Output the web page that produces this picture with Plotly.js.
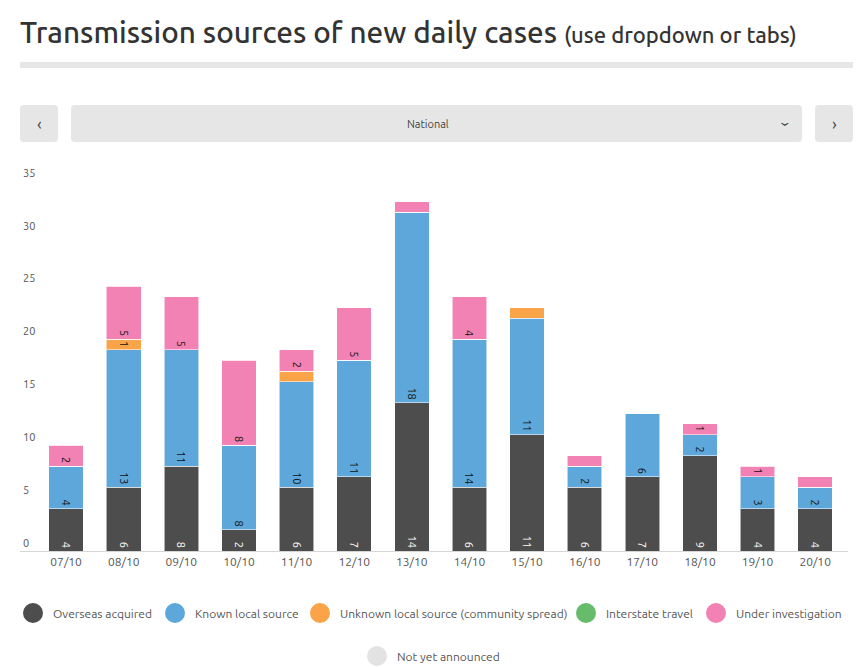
<!DOCTYPE html>
<html>
<head>
<meta charset="utf-8">
<script src="https://cdn.plot.ly/plotly-3.0.1.min.js"></script>
<style>html,body{margin:0;padding:0;background:#fff;}#chart{width:862px;height:667px;}</style>
</head>
<body>
<div id="chart"></div>
<script>
// ---- data ----
const dates = ["07/10","08/10","09/10","10/10","11/10","12/10","13/10","14/10","15/10","16/10","17/10","18/10","19/10","20/10"];
const overseas      = [4, 6, 8, 2, 6, 7, 14, 6, 11, 6, 7, 9, 4, 4];
const knownLocal    = [4, 13, 11, 8, 10, 11, 18, 14, 11, 2, 6, 2, 3, 2];
const unknownLocal  = [0, 1, 0, 0, 1, 0, 0, 0, 1, 0, 0, 0, 0, 0];
const interstate    = [0, 0, 0, 0, 0, 0, 0, 0, 0, 0, 0, 0, 0, 0];
const underInvest   = [2, 5, 5, 8, 2, 5, 1, 4, 0, 1, 0, 1, 1, 1];
const notAnnounced  = [0, 0, 0, 0, 0, 0, 0, 0, 0, 0, 0, 0, 0, 0];
// which segment labels are displayed (small ones hidden in the original)
const showUnknownLabel = [0, 1, 0, 0, 0, 0, 0, 0, 0, 0, 0, 0, 0, 0];
const showUILabel      = [1, 1, 1, 1, 1, 1, 0, 1, 0, 0, 0, 1, 1, 0];
const yTicks = [0, 5, 10, 15, 20, 25, 30, 35];

const FONT = "Ubuntu, Lato, 'Open Sans', sans-serif";
const series = [
  {name: "Overseas acquired", vals: overseas, color: "#4d4d4d", tc: "#ffffff", mask: null},
  {name: "Known local source", vals: knownLocal, color: "#5ea7db", tc: "#111111", mask: null},
  {name: "Unknown local source (community spread)", vals: unknownLocal, color: "#f9a448", tc: "#111111", mask: showUnknownLabel},
  {name: "Interstate travel", vals: interstate, color: "#66bc6a", tc: "#111111", mask: null},
  {name: "Under investigation", vals: underInvest, color: "#f282b3", tc: "#111111", mask: showUILabel},
  {name: "Not yet announced", vals: notAnnounced, color: "#e3e3e3", tc: "#111111", mask: null}
];
// legend entry placement (circle centre, pixels) — page layout only
const legendPos = [[33, 613], [175, 613], [320, 613], [586, 613], [716, 613], [377, 656]];

const traces = [];
series.forEach((s, i) => {
  traces.push({
    type: "bar", x: dates, y: s.vals, name: s.name, showlegend: false,
    marker: {color: s.color, line: {color: "rgba(255,255,255,0.55)", width: 1}},
    text: s.vals.map((v, j) => (v > 0 && (!s.mask || s.mask[j])) ? String(v) : ""),
    textposition: "inside", insidetextanchor: "start", textangle: 90,
    constraintext: "none",
    textfont: {family: FONT, size: 11, color: s.tc},
    hoverinfo: "x+y+name"
  });
});
series.forEach((s, i) => {
  traces.push({
    type: "scatter", mode: "markers", x: [null], y: [null], name: s.name,
    marker: {color: s.color, size: 16, symbol: "circle", line: {color: s.color, width: 4}},
    legend: i === 0 ? "legend" : "legend" + (i + 1), hoverinfo: "skip"
  });
});

// pixel -> paper helpers for page decoration
const YMAX = 37.5;
const L = 20, R = 848, B = 551;
const T = Math.round(B - YMAX * 10.6);
const px = x => (x - L) / (R - L);
const py = y => (B - y) / (B - T);
function rrect(x0, y0, x1, y1, r) {
  const rx = r / (R - L), ry = r / (B - T);
  const a = px(x0), b = px(x1), t = py(y0), u = py(y1);
  return `M${a+rx},${t} L${b-rx},${t} Q${b},${t} ${b},${t-ry} L${b},${u+ry} Q${b},${u} ${b-rx},${u} L${a+rx},${u} Q${a},${u} ${a},${u+ry} L${a},${t-ry} Q${a},${t} ${a+rx},${t} Z`;
}
const shapes = [
  {type: "rect", xref: "paper", yref: "paper", x0: px(20), x1: px(853), y0: py(62), y1: py(68), fillcolor: "#e6e6e6", line: {width: 0}},
  {type: "path", xref: "paper", yref: "paper", path: rrect(20, 105, 58, 142, 4), fillcolor: "#e6e6e6", line: {width: 0}},
  {type: "path", xref: "paper", yref: "paper", path: rrect(71, 105, 802, 142, 4), fillcolor: "#e6e6e6", line: {width: 0}},
  {type: "path", xref: "paper", yref: "paper", path: rrect(815, 105, 853, 142, 4), fillcolor: "#e6e6e6", line: {width: 0}}
];
const ann = (x, y, text, size, extra) => Object.assign({xref: "paper", yref: "paper", x: px(x), y: py(y), text: text,
  showarrow: false, xanchor: "center", yanchor: "middle", font: {family: FONT, size: size, color: "#444"}}, extra || {});
const annotations = [
  ann(428, 124, "National", 11),
  ann(39, 123, "‹", 17),
  ann(834, 123, "›", 17),
  ann(786, 124, "›", 16, {textangle: 90})
];

const layout = {
  width: 862, height: 667,
  margin: {l: L, r: 862 - R, t: T, b: 667 - B, pad: 0, autoexpand: false},
  paper_bgcolor: "#fff", plot_bgcolor: "#fff",
  barmode: "stack", bargap: 0.4,
  font: {family: FONT, color: "#555"},
  title: {
    text: 'Transmission sources of new daily cases <span style="font-size:22px">(use dropdown or tabs)</span>',
    x: 20 / 862, xanchor: "left", xref: "container",
    y: 1 - 33 / 667, yanchor: "middle", yref: "container",
    font: {family: FONT, size: 29.7, color: "#333", weight: 500}
  },
  xaxis: {
    type: "category", range: [-0.8, 13.57], fixedrange: true,
    showline: true, linecolor: "#d6d6d6", linewidth: 1,
    showgrid: false, zeroline: false, ticks: "",
    tickfont: {family: FONT, size: 12, color: "#555"}
  },
  yaxis: {
    range: [0, YMAX], tickvals: yTicks, ticktext: yTicks.map(String), fixedrange: true,
    showgrid: false, zeroline: false, showline: false, ticks: "",
    ticklabelposition: "inside top", ticklabelstandoff: 0,
    tickfont: {family: FONT, size: 11, color: "#555"}
  },
  shapes: shapes, annotations: annotations, showlegend: true
};
legendPos.forEach((p, i) => {
  layout[i === 0 ? "legend" : "legend" + (i + 1)] = {
    orientation: "h", xref: "container", yref: "container",
    x: (p[0] - 20) / 862, xanchor: "left", y: 1 - p[1] / 667, yanchor: "middle",
    font: {family: FONT, size: 12, color: "#555"}, bgcolor: "rgba(0,0,0,0)",
    itemclick: false, itemdoubleclick: false
  };
});

Plotly.newPlot("chart", traces, layout, {displayModeBar: false});
</script>
</body>
</html>
